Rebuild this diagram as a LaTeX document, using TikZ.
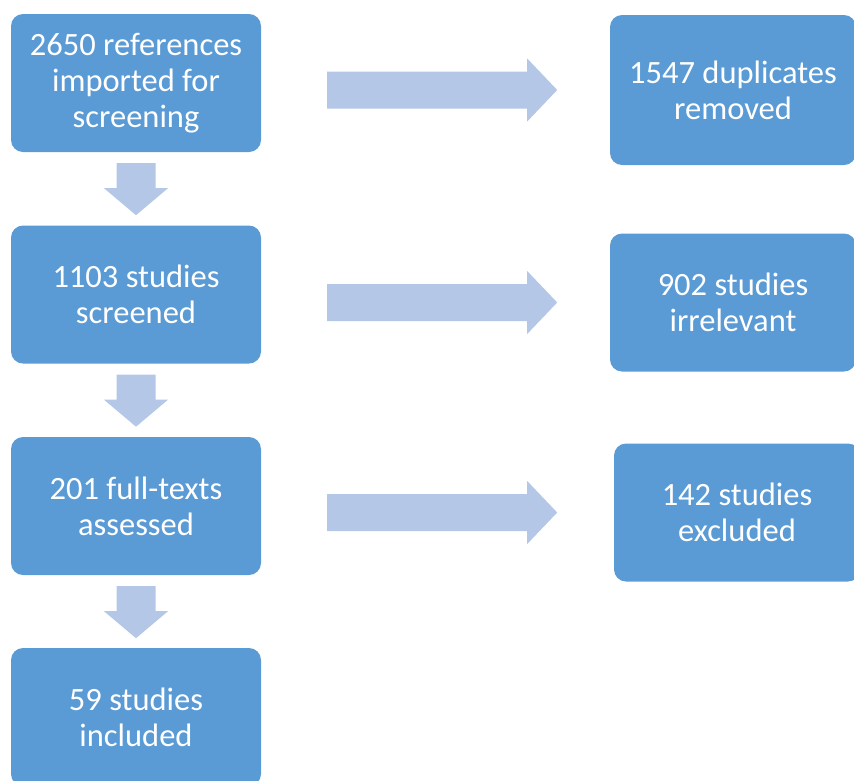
\documentclass[tikz,border=0pt]{standalone}
\usepackage{fontspec}
\setmainfont{Carlito}
\definecolor{boxblue}{HTML}{5B9BD5}
\definecolor{arrowblue}{HTML}{B4C7E7}
\tikzset{
	stage/.style = {fill = boxblue, rounded corners = 12pt, text = white, align = center,
		font = \fontsize{32.5}{36}\selectfont, inner sep = 0pt, minimum width = 250pt, minimum height = 138pt},
	side/.style = {stage, minimum width = 246pt},
	% block arrows, drawn from their back end
	downshape/.pic = {\fill[arrowblue] (-19.5, 0) -- (19.5, 0) -- (19.5, 25) -- (32, 25) -- (0, 52)
		-- (-32, 25) -- (-19.5, 25) -- cycle;},
	rightshape/.pic = {\fill[arrowblue] (0, -18.5) -- (200, -18.5) -- (200, -31.5) -- (230, 0)
		-- (200, 31.5) -- (200, 18.5) -- (0, 18.5) -- cycle;}
}
\begin{document}
\begin{tikzpicture}[x = 1pt, y = -1pt]
	\useasboundingbox (0, 0) rectangle (854, 780);
	% main column
	\node[stage] (imported) at (136, 83) {2650 references\\imported for\\screening};
	\node[stage] (screened) at (136, 294.5) {1103 studies\\screened};
	\node[stage] (assessed) at (136, 506) {201 full-texts\\assessed};
	\node[stage] (included) at (136, 717) {59 studies\\included};
	% removed at each step
	\node[side, minimum height = 150pt] (duplicates) at (733, 90) {1547 duplicates\\removed};
	\node[side] (irrelevant) at (733, 302.5) {902 studies\\irrelevant};
	\node[side] (excluded) at (737, 512.5) {142 studies\\excluded};
	% arrows between the steps
	\pic at ([yshift = -11pt]imported.south) {downshape};
	\pic at ([yshift = -11pt]screened.south) {downshape};
	\pic at ([yshift = -11pt]assessed.south) {downshape};
	\pic at ([xshift = 66pt]imported.east |- duplicates) {rightshape};
	\pic at ([xshift = 66pt]screened.east |- irrelevant) {rightshape};
	\pic at ([xshift = 66pt]assessed.east |- excluded) {rightshape};
\end{tikzpicture}
\end{document}
